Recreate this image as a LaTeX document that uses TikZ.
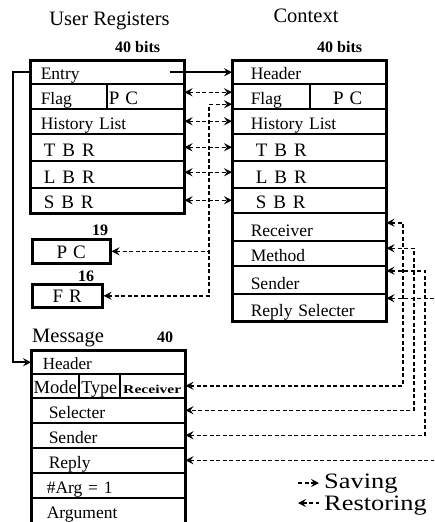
\documentclass[tikz,border=0pt]{standalone}
\usepackage{fontspec}
\setmainfont{Liberation Serif}
\usetikzlibrary{arrows.meta}
\newcommand\rowfnt{\fontsize{17.5}{20}\selectfont}
\newcommand\ttlfnt{\fontsize{20.5}{24}\selectfont}
\newcommand\legfnt{\fontsize{22}{24}\selectfont}
\newcommand\bitfnt{\fontsize{16}{18}\selectfont\bfseries}
\newcommand\spl[1]{{\fontsize{19}{20}\selectfont #1}}
\begin{document}
\begin{tikzpicture}[x=1pt,y=-1pt,
  >={Stealth[length=8pt,width=8pt,inset=3pt]},
  cell/.style={draw, line width=1.5pt, anchor=north west, inner ysep=0pt, text depth=4.5pt, font=\rowfnt},
  ur/.style={cell, inner xsep=10pt, text width=133pt, align=left},
  cx/.style={cell, inner xsep=18pt, text width=117pt, align=left},
  msg/.style={cell, inner xsep=15pt, text width=123pt, align=left},
  outline/.style={draw, line width=2.6pt},
  conn/.style={line width=1.6pt},
  dsh/.style={line width=1.5pt, dash pattern=on 4pt off 2.5pt},
  ttl/.style={inner sep=0pt, font=\ttlfnt},
  leg/.style={inner sep=0pt, font=\legfnt},
  bits/.style={inner sep=0pt, font=\bitfnt},
]
\useasboundingbox (0,0) rectangle (434,522);
\clip (0,0) rectangle (434,522);

% titles
\node[ttl, anchor=base] (t-ur) at (109.5,25) {User Registers};
\node[ttl, anchor=base] (t-cx) at (306,23) {Context};
\node[bits, anchor=base west] (b-ur) at (115,52) {40 bits};
\node[bits, anchor=base west] (b-cx) at (317,52) {40 bits};

% user registers
\node[ur, text height=18.5pt] (ur-entry) at (30,60) {Entry};
\node[cell, inner xsep=10pt, text width=56pt, align=left, text height=20.5pt] (ur-flag) at (30,83) {Flag};
\node[cell, inner xsep=2pt, text width=73pt, align=left, text height=20.5pt] (ur-pc) at (106,83) {\spl{P\hspace{6pt}C}};
\node[ur, text height=20.5pt] (ur-hist) at (30,108) {History List};
\node[ur, text height=22.5pt] (ur-tbr) at (30,133) {\hspace{3pt}\spl{T\hspace{7pt}B\hspace{7pt}R}};
\node[ur, text height=22.5pt] (ur-lbr) at (30,160) {\hspace{3pt}\spl{L\hspace{7pt}B\hspace{7pt}R}};
\node[ur, text height=20.5pt] (ur-sbr) at (30,187) {\hspace{3pt}\spl{S\hspace{7pt}B\hspace{7pt}R}};
\draw[outline] (ur-entry.north west) rectangle (ur-sbr.south east);

% context
\node[cx, text height=18.5pt] (cx-header) at (232,60) {Header};
\node[cell, inner xsep=18pt, text width=41pt, align=left, text height=20.5pt] (cx-flag) at (232,83) {Flag};
\node[cell, inner xsep=0pt, text width=76pt, align=center, text height=20.5pt] (cx-pc) at (309,83) {\spl{P\hspace{6pt}C}};
\node[cx, text height=20.5pt] (cx-hist) at (232,108) {History List};
\node[cx, text height=22.5pt] (cx-tbr) at (232,133) {\hspace{5pt}\spl{T\hspace{7pt}B\hspace{7pt}R}};
\node[cx, text height=22.5pt] (cx-lbr) at (232,160) {\hspace{5pt}\spl{L\hspace{7pt}B\hspace{7pt}R}};
\node[cx, text height=20.5pt] (cx-sbr) at (232,187) {\hspace{5pt}\spl{S\hspace{7pt}B\hspace{7pt}R}};
\node[cx, text height=23.5pt] (cx-recv) at (232,212) {Receiver};
\node[cx, text height=20.5pt] (cx-method) at (232,240) {Method};
\node[cx, text height=23.5pt] (cx-sender) at (232,265) {Sender};
\node[cx, text height=22.5pt] (cx-rsel) at (232,293) {Reply Selecter};
\draw[outline] (cx-header.north west) rectangle (cx-rsel.south east);

% PC and FR registers
\node[bits, anchor=base west] (b-pc) at (92,235) {19};
\node[cell, line width=2.6pt, inner xsep=0pt, text width=78pt, align=center, text height=19.5pt] (pcreg) at (31,238) {\spl{P\hspace{6pt}C}};
\node[bits, anchor=base west] (b-fr) at (78,281) {16};
\node[cell, line width=2.6pt, inner xsep=0pt, text width=70pt, align=center, text height=18.5pt] (frreg) at (31,283) {\spl{F\hspace{6pt}R}};

% message
\node[ttl, anchor=base west] (t-msg) at (32,342) {Message};
\node[bits, anchor=base west] (b-msg) at (157,342) {40};
\node[msg, inner xsep=11pt, text width=131pt, text height=18.5pt, font=\fontsize{17}{19}\selectfont] (msg-header) at (31,350) {Header};
\node[cell, inner xsep=0pt, text width=47pt, align=center, text height=19.5pt, font=\fontsize{18.5}{20}\selectfont] (msg-mode) at (31,373) {Mode};
\node[cell, inner xsep=0pt, text width=41pt, align=center, text height=19.5pt, font=\fontsize{18}{20}\selectfont] (msg-type) at (78,373) {Type};
\node[cell, inner xsep=0pt, text width=65pt, align=center, text height=19.5pt, font=\fontsize{12}{14}\selectfont\bfseries] (msg-recv) at (119,373) {\scalebox{1.3}[1]{Receiver}};
\node[msg, inner xsep=17pt, text width=119pt, text height=20.5pt] (msg-sel) at (31,397) {Selecter};
\node[msg, inner xsep=17pt, text width=119pt, text height=20.5pt] (msg-sender) at (31,422) {Sender};
\node[msg, inner xsep=17pt, text width=119pt, text height=20.5pt] (msg-reply) at (31,447) {Reply};
\node[msg, text height=20.5pt] (msg-arg) at (31,472) {\#Arg = 1};
\node[msg, text height=20.5pt, text depth=10pt] (msg-argument) at (31,497) {Argument};
\draw[outline] (msg-header.north west) rectangle (msg-argument.south east);

% helper coordinates
\coordinate (vx) at (209,0);
\coordinate (xr1) at (403,0);
\coordinate (xr2) at (414,0);
\coordinate (xr3) at (425,0);
\coordinate (edge) at (440,0);

% solid connectors
\draw[conn, ->] ([xshift=-15pt]ur-entry.east) -- (cx-header.west);
\draw[conn, ->] (ur-entry.west) -- ++(-17,0) |- (msg-header.west);

% dashed connectors between user registers and context
\draw[dsh, <->] ([yshift=4pt]ur-pc.east) -- ([yshift=4pt]cx-flag.west);
\draw[dsh, <->] (frreg.east) -- (frreg.east -| vx) |- ([yshift=-8pt]cx-flag.west);
\draw[dsh, <-] (pcreg.east) -- (pcreg.east -| vx);
\draw[dsh, <->] (ur-hist.east) -- (cx-hist.west);
\draw[dsh, <->] (ur-tbr.east) -- (cx-tbr.west);
\draw[dsh, <->] ([yshift=2pt]ur-lbr.east) -- ([yshift=2pt]cx-lbr.west);
\draw[dsh, <->] (ur-sbr.east) -- (cx-sbr.west);

% context to message
\draw[dsh, <->] ([yshift=4pt]cx-recv.east) -| (xr1 |- msg-recv.east) -- (msg-recv.east);
\draw[dsh, <->] ([yshift=5pt]cx-method.east) -| (xr2 |- msg-sel.east) -- (msg-sel.east);
\draw[dsh, <->] ([yshift=9pt]cx-sender.east) -| (xr3 |- msg-sender.east) -- (msg-sender.east);
\draw[dsh, <-] ([yshift=9pt]cx-rsel.east) -- ([yshift=9pt]cx-rsel.east -| edge);
\draw[dsh, <-] (msg-reply.east) -- (msg-reply.east -| edge);

% legend
\coordinate (lg1a) at (298,483);
\coordinate (lg1b) at (319,483);
\coordinate (lg2a) at (298,503);
\coordinate (lg2b) at (319,503);
\draw[dsh, ->] (lg1a) -- (lg1b);
\draw[dsh, <-] (lg2a) -- (lg2b);
\node[leg, anchor=base west] (lg-save) at (324,488) {\scalebox{1.2}[1]{Saving}};
\node[leg, anchor=base west] (lg-rest) at (324,510) {\scalebox{1.2}[1]{Restoring}};
\end{tikzpicture}
\end{document}
